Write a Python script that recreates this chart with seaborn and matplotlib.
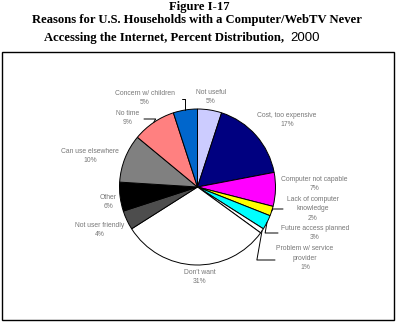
import numpy as np
import matplotlib
matplotlib.use("Agg")
import matplotlib.pyplot as plt
import seaborn as sns
from matplotlib.patches import Rectangle

sns.set_theme(style="white")
plt.rcParams['font.family'] = ['Liberation Sans', 'DejaVu Sans']

# ---- data ----
categories = ["Not useful", "Cost, too expensive", "Computer not capable",
              "Lack of computer\nknowledge", "Future access planned",
              "Problem w/ service\nprovider", "Don't want", "Not user friendly",
              "Other", "Can use elsewhere", "No time", "Concern w/ children"]
percents = [5, 17, 7, 2, 3, 1, 31, 4, 6, 10, 9, 5]
slice_colors = ["#CCCCFF", "#000080", "#FF00FF", "#FFFF00", "#00FFFF", "#FFFFFF",
                "#FFFFFF", "#4D4D4D", "#000000", "#808080", "#FF8080", "#0066CC"]

W, H = 397, 323
fig = plt.figure(figsize=(W / 100, H / 100), dpi=100)
ax = fig.add_axes([0, 0, 1, 1])

def py(y):
    return H - y

cx, cy, R = 197.5, 187, 78
wedges, _ = ax.pie(percents, colors=slice_colors, startangle=90, counterclock=False,
                   center=(cx, py(cy)), radius=R, frame=True,
                   wedgeprops=dict(edgecolor='black', linewidth=0.7))
ax.set_xlim(0, W)
ax.set_ylim(0, H)
ax.set_aspect('equal')
ax.axis('off')

# label layout (pixel positions of label centres)
label_pos = [(211, 97), (287, 120), (314, 184), (313, 209), (315, 233), (305, 258),
             (200, 277), (100, 230), (108, 202), (90, 156), (128, 118), (145, 98)]
# leader line: (text anchor point in px, connection style)
leaders = {
    3: ((283, 209), "angle,angleA=0,angleB=60,rad=0"),
    4: ((278, 233), "angle,angleA=0,angleB=80,rad=0"),
    5: ((275, 260), "angle,angleA=0,angleB=80,rad=0"),
    10: ((144, 119), "angle,angleA=0,angleB=60,rad=0"),
    11: ((182, 99), "angle,angleA=0,angleB=90,rad=0"),
}

lab_color = '#777777'
for i, (w, name, p) in enumerate(zip(wedges, categories, percents)):
    lx, ly = label_pos[i]
    txt = f"{name}\n{p}%"
    ax.text(lx, py(ly), txt, ha='center', va='center', fontsize=4.9,
            color=lab_color, linespacing=1.45)
    if i in leaders:
        (ax_, ay_), cs = leaders[i]
        mid = np.deg2rad((w.theta1 + w.theta2) / 2)
        ex, ey = cx + R * np.cos(mid), py(cy) + R * np.sin(mid)
        ax.annotate("", xy=(ex, ey), xytext=(ax_, py(ay_)),
                    arrowprops=dict(arrowstyle='-', color='black', lw=0.7,
                                    connectionstyle=cs, shrinkA=0, shrinkB=0))

# frame
ax.add_patch(Rectangle((2, py(320)), 392, 268, fill=False, edgecolor='black', lw=1.0))

# title
tfont = dict(family=['Liberation Serif'], weight='bold', fontsize=9.1, color='black')
ax.text(199, py(7), "Figure I-17", ha='center', va='center', **tfont)
ax.text(197, py(20), "Reasons for U.S. Households with a Computer/WebTV Never",
        ha='center', va='center', **tfont)
ax.text(287, py(38), "Accessing the Internet, Percent Distribution, ", ha='right',
        va='center', **tfont)
ax.text(290, py(38), "2000", ha='left', va='center', fontsize=9.5,
        family=['Liberation Sans'], color='black')

fig.savefig("out.png", dpi=100)
